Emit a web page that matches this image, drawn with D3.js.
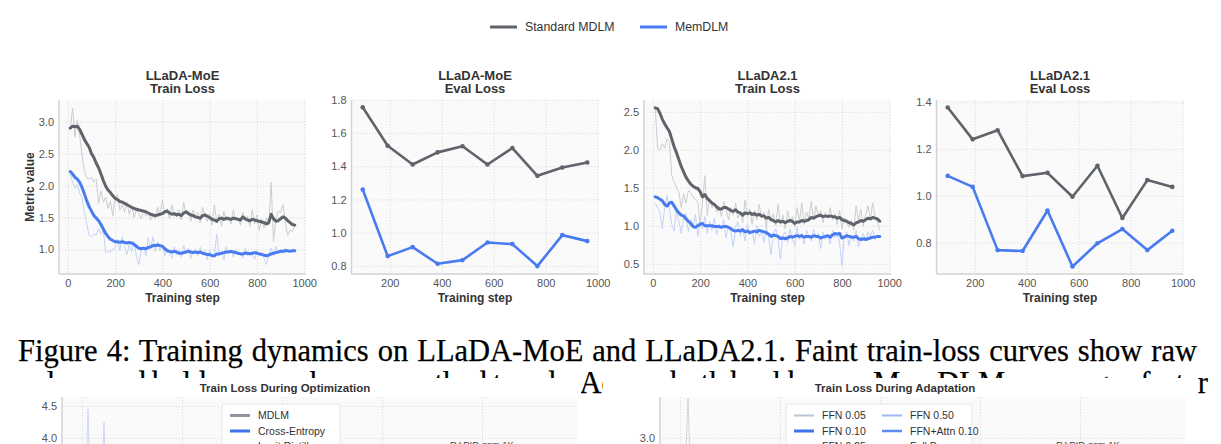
<!DOCTYPE html>
<html>
<head>
<meta charset="utf-8">
<script src="https://cdn.jsdelivr.net/npm/d3@7"></script>
<style>
body { margin: 0; background: #fff; }
svg { display: block; font-family: "Liberation Sans", Arial, sans-serif; }
.grid line { stroke: #d6d6d6; stroke-width: 0.8; stroke-dasharray: 1.2 1.8; }
.grid path { display: none; }
.ticks path { display: none; }
.ticks text { fill: #555; font-size: 11px; font-family: "Liberation Sans", Arial, sans-serif; }
text.caption { font-family: "Liberation Serif", "Times New Roman", serif; font-size: 30.5px; }
</style>
</head>
<body>
<svg id="chart" width="1221" height="444"></svg>
<script>
// ---- data ----
var trainSteps = [10, 20, 30, 40, 50, 60, 70, 80, 90, 100, 110, 120, 130, 140, 150, 160, 170, 180, 190, 200,
    210, 220, 230, 240, 250, 260, 270, 280, 290, 300, 310, 320, 330, 340, 350, 360, 370, 380, 390, 400,
    410, 420, 430, 440, 450, 460, 470, 480, 490, 500, 510, 520, 530, 540, 550, 560, 570, 580, 590, 600,
    610, 620, 630, 640, 650, 660, 670, 680, 690, 700, 710, 720, 730, 740, 750, 760, 770, 780, 790, 800,
    810, 820, 830, 840, 850, 860, 870, 880, 890, 900, 910, 920, 930, 940, 950, 960]
var evalSteps = [96, 192, 288, 384, 480, 576, 672, 768, 864, 960]

var seriesNames = ["Standard MDLM", "MemDLM"]

// LLaDA-MoE train loss
var moeTrainRawStd = [2.88, 3.21, 2.76, 3.02, 2.78, 2.48, 2.22, 2.12, 2.10, 2.13, 2.05, 2.10, 1.72, 1.92, 1.74, 1.82, 1.64, 1.76, 1.52, 1.80,
    1.86, 1.62, 1.70, 1.58, 1.74, 1.55, 1.68, 1.50, 1.62, 1.56, 1.48, 1.60, 1.52, 1.58, 1.46, 1.55, 1.48, 1.66, 1.52, 1.78,
    1.55, 1.64, 1.48, 1.70, 1.52, 1.56, 1.62, 1.46, 1.74, 1.55, 1.60, 1.44, 1.62, 1.50, 1.58, 1.42, 1.66, 1.52, 1.44, 1.56,
    1.38, 1.70, 1.42, 1.55, 1.36, 1.60, 1.45, 1.52, 1.40, 1.62, 1.46, 1.50, 1.38, 1.58, 1.44, 1.52, 1.36, 1.62, 1.40, 1.54,
    1.30, 1.48, 1.34, 1.50, 1.38, 2.05, 1.12, 1.46, 1.60, 1.58, 1.70, 1.42, 1.22, 1.30, 1.28, 1.38]
var moeTrainSmoothStd = [2.90, 2.93, 2.92, 2.93, 2.88, 2.80, 2.72, 2.66, 2.60, 2.50, 2.44, 2.35, 2.28, 2.18, 2.08, 1.99, 1.93, 1.89, 1.84, 1.80,
    1.78, 1.75, 1.74, 1.72, 1.70, 1.68, 1.66, 1.64, 1.63, 1.62, 1.61, 1.60, 1.59, 1.57, 1.55, 1.54, 1.53, 1.54, 1.55, 1.56,
    1.59, 1.60, 1.57, 1.55, 1.56, 1.54, 1.55, 1.53, 1.57, 1.59, 1.56, 1.54, 1.53, 1.51, 1.50, 1.49, 1.53, 1.54, 1.52, 1.50,
    1.47, 1.46, 1.44, 1.48, 1.49, 1.47, 1.49, 1.48, 1.47, 1.49, 1.48, 1.47, 1.46, 1.51, 1.48, 1.46, 1.45, 1.47, 1.46, 1.45,
    1.44, 1.43, 1.42, 1.40, 1.42, 1.55, 1.48, 1.44, 1.45, 1.48, 1.51, 1.49, 1.45, 1.42, 1.39, 1.38]
var moeTrainRawMem = [2.18, 2.05, 1.96, 2.02, 1.88, 1.80, 1.58, 1.40, 1.22, 1.20, 1.24, 1.22, 1.33, 1.24, 1.30, 0.95, 0.98, 0.96, 1.00, 1.02,
    1.16, 0.98, 1.20, 1.04, 0.92, 1.08, 0.96, 1.12, 0.90, 0.76, 0.98, 1.04, 0.90, 1.18, 1.02, 1.20, 0.96, 1.12, 0.98, 1.06,
    0.90, 1.02, 0.94, 0.86, 1.04, 0.92, 1.00, 0.88, 1.06, 0.94, 1.02, 0.86, 0.98, 1.00, 0.90, 1.04, 0.92, 0.98, 0.84, 1.00,
    0.88, 0.94, 1.24, 0.90, 0.96, 0.84, 1.04, 0.94, 0.98, 0.88, 1.00, 0.92, 0.96, 0.86, 1.02, 0.90, 0.96, 0.92, 0.84, 0.98,
    0.90, 0.96, 0.86, 0.76, 0.92, 1.02, 0.90, 1.05, 0.96, 1.00, 0.94, 1.02, 0.98, 0.96, 1.00, 0.98]
var moeTrainSmoothMem = [2.22, 2.18, 2.13, 2.10, 2.05, 1.97, 1.87, 1.76, 1.67, 1.60, 1.53, 1.49, 1.45, 1.39, 1.32, 1.25, 1.20, 1.16, 1.14, 1.12,
    1.12, 1.11, 1.12, 1.11, 1.10, 1.11, 1.10, 1.08, 1.05, 1.02, 1.01, 1.02, 1.01, 1.03, 1.04, 1.06, 1.06, 1.07, 1.06, 1.05,
    1.01, 0.98, 0.97, 0.96, 0.97, 0.96, 0.94, 0.94, 0.95, 0.96, 0.97, 0.96, 0.95, 0.96, 0.95, 0.96, 0.94, 0.93, 0.92, 0.92,
    0.90, 0.90, 0.93, 0.93, 0.94, 0.95, 0.96, 0.96, 0.97, 0.96, 0.95, 0.94, 0.93, 0.93, 0.94, 0.94, 0.93, 0.94, 0.95, 0.94,
    0.93, 0.92, 0.91, 0.90, 0.91, 0.93, 0.94, 0.95, 0.96, 0.97, 0.97, 0.98, 0.98, 0.97, 0.98, 0.98]

// LLaDA-MoE eval loss
var moeEvalStd = [1.754, 1.523, 1.41, 1.483, 1.52, 1.41, 1.509, 1.342, 1.392, 1.422]
var moeEvalMem = [1.26, 0.86, 0.914, 0.814, 0.836, 0.942, 0.932, 0.80, 0.986, 0.95]

// LLaDA2.1 train loss
var l21TrainRawStd = [2.55, 2.02, 2.00, 2.08, 2.02, 2.14, 2.10, 1.66, 1.58, 1.50, 1.44, 1.24, 1.42, 1.30, 1.46, 1.44, 1.38, 1.34, 1.32, 1.02,
    1.30, 1.66, 1.14, 1.36, 1.24, 1.30, 1.18, 1.26, 1.12, 1.32, 1.20, 1.08, 1.24, 1.14, 1.30, 1.10, 1.18, 1.04, 1.34, 1.12,
    1.22, 1.02, 1.20, 1.08, 1.28, 1.10, 1.18, 0.98, 1.22, 1.06, 1.16, 1.00, 1.28, 1.02, 1.14, 0.96, 1.20, 1.04, 1.12, 0.98,
    1.24, 1.06, 1.30, 1.02, 1.18, 1.10, 1.32, 1.08, 1.26, 1.14, 1.20, 1.04, 1.18, 1.10, 1.24, 1.08, 1.16, 1.02, 1.20, 0.96,
    1.10, 1.04, 0.98, 1.08, 0.94, 1.26, 1.06, 1.22, 1.00, 1.14, 1.26, 1.08, 1.30, 1.12, 1.04, 0.94]
var l21TrainSmoothStd = [2.55, 2.54, 2.48, 2.40, 2.34, 2.29, 2.24, 2.14, 2.04, 1.96, 1.87, 1.78, 1.71, 1.64, 1.59, 1.55, 1.52, 1.50, 1.49, 1.45,
    1.38, 1.41, 1.36, 1.33, 1.30, 1.28, 1.25, 1.22, 1.22, 1.24, 1.24, 1.22, 1.20, 1.19, 1.21, 1.18, 1.17, 1.14, 1.17, 1.16,
    1.17, 1.15, 1.16, 1.14, 1.15, 1.13, 1.13, 1.10, 1.11, 1.08, 1.07, 1.05, 1.07, 1.05, 1.06, 1.04, 1.06, 1.07, 1.06, 1.03,
    1.05, 1.05, 1.07, 1.06, 1.07, 1.08, 1.11, 1.10, 1.12, 1.13, 1.14, 1.12, 1.13, 1.12, 1.13, 1.12, 1.12, 1.10, 1.11, 1.08,
    1.07, 1.06, 1.04, 1.03, 1.01, 1.04, 1.05, 1.07, 1.06, 1.08, 1.10, 1.09, 1.11, 1.10, 1.09, 1.06]
var l21TrainRawMem = [1.30, 1.24, 1.18, 0.96, 1.24, 1.40, 1.22, 1.02, 0.93, 1.20, 1.06, 0.90, 1.10, 1.16, 0.92, 1.08, 0.98, 1.15, 0.86, 1.04,
    0.96, 1.12, 0.90, 1.06, 0.94, 1.10, 0.88, 1.02, 0.96, 1.08, 0.84, 1.00, 0.92, 0.72, 0.98, 1.06, 0.86, 0.96, 0.80, 1.02,
    0.88, 0.94, 0.76, 1.00, 0.86, 0.92, 0.78, 0.98, 0.84, 0.62, 0.90, 0.96, 0.80, 0.56, 0.88, 0.92, 0.78, 0.96, 0.84, 0.74,
    0.98, 0.82, 0.90, 0.76, 0.94, 0.86, 0.80, 0.96, 0.84, 0.90, 0.70, 0.92, 0.82, 0.88, 0.76, 0.94, 0.84, 0.90, 0.78, 0.47,
    0.86, 0.92, 0.74, 0.88, 0.80, 0.94, 0.72, 0.84, 0.90, 0.80, 0.92, 0.86, 0.94, 0.82, 0.88, 0.86]
var l21TrainSmoothMem = [1.38, 1.37, 1.35, 1.33, 1.28, 1.26, 1.30, 1.31, 1.26, 1.21, 1.17, 1.14, 1.13, 1.09, 1.06, 1.03, 0.99, 0.98, 1.00, 1.02,
    1.03, 1.00, 1.00, 1.00, 1.00, 0.99, 0.99, 0.99, 0.98, 0.99, 0.99, 0.98, 0.96, 0.94, 0.93, 0.94, 0.93, 0.95, 0.92, 0.93,
    0.91, 0.92, 0.93, 0.92, 0.94, 0.93, 0.92, 0.91, 0.89, 0.86, 0.88, 0.87, 0.86, 0.83, 0.84, 0.83, 0.84, 0.86, 0.85, 0.86,
    0.87, 0.86, 0.87, 0.85, 0.86, 0.86, 0.85, 0.87, 0.86, 0.86, 0.84, 0.85, 0.86, 0.87, 0.85, 0.88, 0.90, 0.89, 0.90, 0.84,
    0.85, 0.87, 0.86, 0.85, 0.85, 0.86, 0.83, 0.82, 0.83, 0.82, 0.83, 0.84, 0.85, 0.85, 0.86, 0.86]

// LLaDA2.1 eval loss
var l21EvalStd = [1.377, 1.241, 1.28, 1.084, 1.098, 0.996, 1.128, 0.905, 1.067, 1.038]
var l21EvalMem = [1.085, 1.038, 0.768, 0.764, 0.937, 0.698, 0.797, 0.858, 0.768, 0.851]

// caption
var captionLines = [
    "Figure 4: Training dynamics on LLaDA-MoE and LLaDA2.1. Faint train-loss curves show raw",
    "values and bold curves show smoothed trends. Across both backbones, MemDLM converges faster"
]

// lower figures (only their top edge is in frame)
var optTitle = "Train Loss During Optimization"
var optLegend = ["MDLM", "Cross-Entropy", "Logit Distill"]
var optSteps = [0, 10, 20, 30, 40, 50, 60, 70, 80, 90, 100, 110, 120, 130, 140]
var optDistill = [3.30, 3.55, 3.40, 4.45, 3.35, 3.10, 3.30, 3.05, 3.20, 3.10, 3.30, 4.25, 3.20, 3.00, 3.10]
var optYTicks = [4.0, 4.5]
var optXTicks = [0, 500, 1000, 1500, 2000]
var adaTitle = "Train Loss During Adaptation"
var adaLegend = ["FFN 0.05", "FFN 0.50", "FFN 0.10", "FFN+Attn 0.10", "FFN 0.25", "Full Param."]
var adaSteps = [10, 20, 30, 40, 50, 60, 70]
var adaFull = [2.70, 2.80, 2.75, 3.66, 2.60, 2.75, 2.65]
var adaYTicks = [3.0]
var adaXTicks = [0, 500, 1000, 1500, 2000]
var phaseNote = "RAPID-ssm 1K"

// ---- styles ----
var colStd = "#5f636b", colMem = "#487bf0"
var colStdRaw = "#cdcdcf", colMemRaw = "#c3d3f8"

var svg = d3.select("#chart")
svg.append("rect").attr("width", 1221).attr("height", 444).attr("fill", "#fff")

var plotTop = 100, plotW = 247, plotH = 174

var panels = [
    { title: ["LLaDA-MoE", "Train Loss"], left: 59, xDom: [-37.5, 1007.5], yDom: [0.615, 3.34],
      xTicks: [0, 200, 400, 600, 800, 1000], yTicks: [1.0, 1.5, 2.0, 2.5, 3.0], fmt: ".1f",
      train: true, raw: [moeTrainRawStd, moeTrainRawMem], main: [moeTrainSmoothStd, moeTrainSmoothMem] },
    { title: ["LLaDA-MoE", "Eval Loss"], left: 351.5, xDom: [52.8, 1003.2], yDom: [0.7525, 1.7975],
      xTicks: [200, 400, 600, 800, 1000], yTicks: [0.8, 1.0, 1.2, 1.4, 1.6, 1.8], fmt: ".1f",
      train: false, main: [moeEvalStd, moeEvalMem] },
    { title: ["LLaDA2.1", "Train Loss"], left: 644, xDom: [-37.5, 1007.5], yDom: [0.366, 2.654],
      xTicks: [0, 200, 400, 600, 800, 1000], yTicks: [0.5, 1.0, 1.5, 2.0, 2.5], fmt: ".1f",
      train: true, raw: [l21TrainRawStd, l21TrainRawMem], main: [l21TrainSmoothStd, l21TrainSmoothMem] },
    { title: ["LLaDA2.1", "Eval Loss"], left: 936.5, xDom: [52.8, 1003.2], yDom: [0.666, 1.409],
      xTicks: [200, 400, 600, 800, 1000], yTicks: [0.8, 1.0, 1.2, 1.4], fmt: ".1f",
      train: false, main: [l21EvalStd, l21EvalMem] }
]

panels.forEach(function (p, i) {
    var g = svg.append("g").attr("transform", "translate(" + p.left + "," + plotTop + ")")
    var x = d3.scaleLinear().domain(p.xDom).range([0, plotW])
    var y = d3.scaleLinear().domain(p.yDom).range([plotH, 0])
    var steps = p.train ? trainSteps : evalSteps

    g.append("rect").attr("width", plotW).attr("height", plotH).attr("fill", "#fafafa")

    g.append("g").attr("class", "grid")
        .call(d3.axisBottom(x).tickValues(p.xTicks).tickSize(plotH).tickFormat(""))
    g.append("g").attr("class", "grid")
        .call(d3.axisLeft(y).tickValues(p.yTicks).tickSize(-plotW).tickFormat(""))

    // spines (left + bottom)
    g.append("line").attr("x1", 0).attr("x2", 0).attr("y1", 0).attr("y2", plotH)
        .attr("stroke", "#d2d2d2").attr("stroke-width", 1.5)
    g.append("line").attr("x1", 0).attr("x2", plotW).attr("y1", plotH).attr("y2", plotH)
        .attr("stroke", "#d2d2d2").attr("stroke-width", 1.5)

    g.append("g").attr("class", "ticks").attr("transform", "translate(0," + plotH + ")")
        .call(d3.axisBottom(x).tickValues(p.xTicks).tickSize(0).tickPadding(5.5).tickFormat(d3.format("d")))
    g.append("g").attr("class", "ticks")
        .call(d3.axisLeft(y).tickValues(p.yTicks).tickSize(0).tickPadding(5).tickFormat(d3.format(p.fmt)))

    var line = d3.line()
        .x(function (d, k) { return x(steps[k]) })
        .y(function (d) { return y(d) })

    if (p.train) {
        p.raw.forEach(function (s, k) {
            g.append("path").datum(s).attr("d", line).attr("fill", "none")
                .attr("stroke", k === 0 ? colStdRaw : colMemRaw).attr("stroke-width", 1)
                .attr("stroke-linejoin", "round")
        })
        p.main.forEach(function (s, k) {
            g.append("path").datum(s).attr("d", line).attr("fill", "none")
                .attr("stroke", k === 0 ? colStd : colMem).attr("stroke-width", 3)
                .attr("stroke-linejoin", "round").attr("stroke-linecap", "round")
        })
    } else {
        p.main.forEach(function (s, k) {
            var c = k === 0 ? colStd : colMem
            g.append("path").datum(s).attr("d", line).attr("fill", "none")
                .attr("stroke", c).attr("stroke-width", 2.6)
                .attr("stroke-linejoin", "round")
            g.selectAll(null).data(s).enter().append("circle")
                .attr("cx", function (d, j) { return x(steps[j]) })
                .attr("cy", function (d) { return y(d) })
                .attr("r", 2.3).attr("fill", c)
        })
    }

    // titles
    g.append("text").attr("x", plotW / 2).attr("y", -20.5).attr("text-anchor", "middle")
        .attr("font-size", 13).attr("font-weight", "bold").attr("fill", "#333").text(p.title[0])
    g.append("text").attr("x", plotW / 2).attr("y", -7.5).attr("text-anchor", "middle")
        .attr("font-size", 13).attr("font-weight", "bold").attr("fill", "#333").text(p.title[1])

    g.append("text").attr("x", plotW / 2).attr("y", plotH + 28).attr("text-anchor", "middle")
        .attr("font-size", 12).attr("font-weight", "bold").attr("fill", "#333").text("Training step")

    if (i === 0) {
        g.append("text").attr("transform", "translate(-25," + plotH / 2 + ") rotate(-90)")
            .attr("text-anchor", "middle").attr("font-size", 12).attr("font-weight", "bold")
            .attr("fill", "#333").text("Metric value")
    }
})

// top legend
var legend = svg.append("g")
var legendX = [490, 640]
seriesNames.forEach(function (name, k) {
    legend.append("line").attr("x1", legendX[k]).attr("x2", legendX[k] + 27).attr("y1", 27).attr("y2", 27)
        .attr("stroke", k === 0 ? colStd : colMem).attr("stroke-width", 3)
    legend.append("text").attr("x", legendX[k] + 35).attr("y", 31.3).attr("font-size", 12.3)
        .attr("fill", "#333").text(name)
})

// caption: serif, justified by stretching the word gaps
var capY = [361, 393]
var capLen = [1179, 1190]
captionLines.forEach(function (t, k) {
    var txt = svg.append("text").attr("class", "caption").attr("x", 18).attr("y", capY[k])
        .attr("fill", "#000").attr("stroke", "#000").attr("stroke-width", 0.25).text(t)
    var natural = txt.node().getComputedTextLength()
    var gaps = t.split(" ").length - 1
    txt.attr("word-spacing", (capLen[k] - natural) / gaps)
})

// lower figures, cut by the frame
function lowerFigure(opt) {
    var fig = svg.append("g")
    fig.append("rect").attr("x", opt.x0).attr("y", 378).attr("width", opt.x1 - opt.x0).attr("height", 70).attr("fill", "#fff")
    fig.append("text").attr("x", opt.titleX).attr("y", 392).attr("text-anchor", "middle")
        .attr("font-size", 11.5).attr("font-weight", "bold").attr("fill", "#333").text(opt.title)

    var h = 200
    var g = fig.append("g").attr("transform", "translate(" + opt.left + ",397)")
    var x = d3.scaleLinear().domain(opt.xDom).range([0, opt.w])
    var y = d3.scaleLinear().domain(opt.yDom).range([h, 0])
    g.append("rect").attr("width", opt.w).attr("height", h).attr("fill", "#fafafa")
    g.append("g").attr("class", "grid").call(d3.axisBottom(x).tickValues(opt.xTicks).tickSize(h).tickFormat(""))
    g.append("g").attr("class", "grid").call(d3.axisLeft(y).tickValues(opt.yTicks).tickSize(-opt.w).tickFormat(""))
    g.append("line").attr("x1", 0).attr("x2", 0).attr("y1", 0).attr("y2", h).attr("stroke", "#d2d2d2").attr("stroke-width", 1.5)
    g.append("g").attr("class", "ticks")
        .call(d3.axisLeft(y).tickValues(opt.yTicks).tickSize(0).tickPadding(5).tickFormat(d3.format(".1f")))

    var line = d3.line().x(function (d, k) { return x(opt.steps[k]) }).y(function (d) { return y(d) })
    g.append("path").datum(opt.values).attr("d", line).attr("fill", "none")
        .attr("stroke", opt.spikeColor).attr("stroke-width", 1)

    g.append("text").attr("x", opt.noteX).attr("y", 51).attr("font-size", 9.5).attr("fill", "#444").text(phaseNote)

    // legend box
    var lg = fig.append("g").attr("transform", "translate(" + opt.legX + ",404)")
    lg.append("rect").attr("width", opt.legW).attr("height", 60).attr("rx", 3)
        .attr("fill", "#fff").attr("stroke", "#e6e6e6")
    opt.legend.forEach(function (name, k) {
        var col = k % opt.cols, row = Math.floor(k / opt.cols)
        var lx = 8 + col * opt.colW, ly = 11.5 + row * 15.5
        lg.append("line").attr("x1", lx).attr("x2", lx + 20).attr("y1", ly).attr("y2", ly)
            .attr("stroke", opt.legendColors[k]).attr("stroke-width", opt.legendWidths[k])
        lg.append("text").attr("x", lx + 28).attr("y", ly + 3.8).attr("font-size", 10.5).attr("fill", "#333").text(name)
    })
}

lowerFigure({
    x0: 0, x1: 581, title: optTitle, titleX: 285, left: 62, w: 515,
    xDom: [-100, 2475], yDom: [1.515, 4.64], xTicks: optXTicks, yTicks: optYTicks,
    steps: optSteps, values: optDistill, spikeColor: "#cdd9f7", noteX: 388,
    legX: 222, legW: 118, cols: 1, colW: 0, legend: optLegend,
    legendColors: ["#8f96a3", "#3f72ec", "#d3def9"], legendWidths: [3, 3, 2]
})
lowerFigure({
    x0: 603, x1: 1198, title: adaTitle, titleX: 895, left: 660, w: 525,
    xDom: [-100, 2525], yDom: [0.35, 3.68], xTicks: adaXTicks, yTicks: adaYTicks,
    steps: adaSteps, values: adaFull, spikeColor: "#d4d4d4", noteX: 396,
    legX: 786, legW: 186, cols: 2, colW: 88, legend: adaLegend,
    legendColors: ["#b9c3d6", "#9db9f6", "#3f72ec", "#5f8cf0", "#d6e2fb", "#c4c4c4"],
    legendWidths: [2, 2, 3, 2.5, 2, 2]
})
</script>
</body>
</html>
